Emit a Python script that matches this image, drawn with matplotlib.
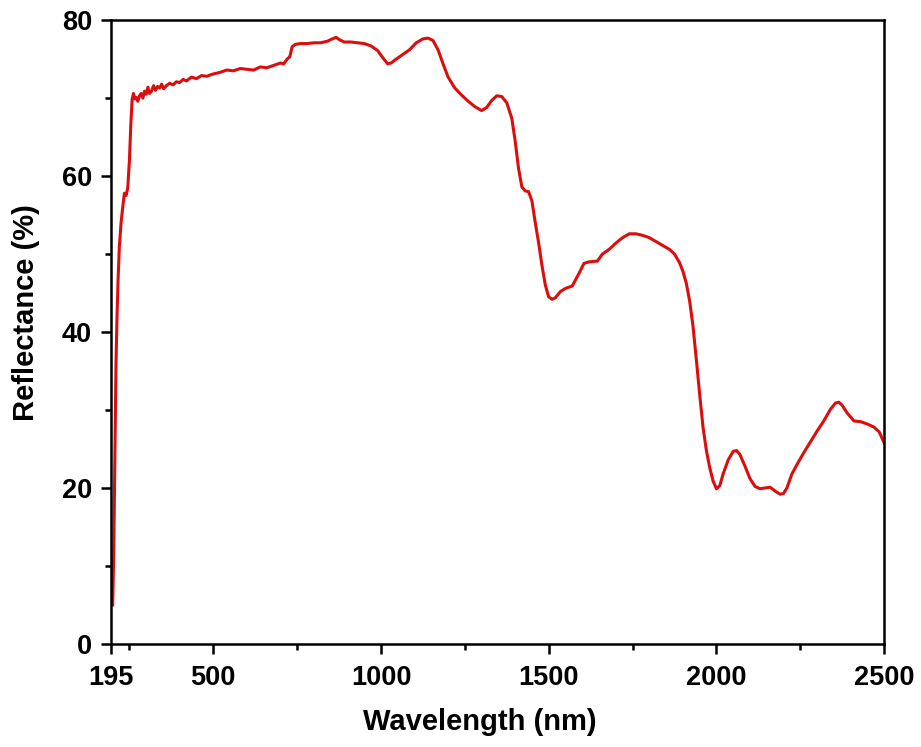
import matplotlib
matplotlib.use('Agg')
import matplotlib.pyplot as plt
from matplotlib.ticker import MultipleLocator, FixedLocator

# Reflectance spectrum
wavelength = [200, 203, 205, 207, 210, 213, 216, 220, 225, 230, 235, 240, 245, 250, 254, 258,
              262, 266, 270, 275, 280, 285, 290, 295, 300, 305, 310, 316, 322, 328, 334, 340,
              346, 352, 360, 370, 380, 390, 400, 410, 420, 435, 450, 465, 480, 500, 520, 540,
              560, 580, 600, 620, 640, 660, 680, 700, 710, 720, 728, 735, 745, 760, 780, 800,
              820, 840, 855, 866, 876, 890, 910, 930, 950, 970, 990, 1005, 1020, 1030, 1045,
              1065, 1085, 1105, 1125, 1140, 1155, 1170, 1185, 1200, 1220, 1240, 1260, 1280, 1300,
              1315, 1330, 1345, 1360, 1375, 1390, 1400, 1410, 1420, 1430, 1440, 1450, 1460, 1470,
              1480, 1490, 1500, 1510, 1520, 1535, 1550, 1570, 1590, 1605, 1620, 1645, 1660, 1680,
              1700, 1720, 1740, 1760, 1780, 1800, 1820, 1840, 1860, 1875, 1890, 1900, 1910, 1920,
              1930, 1940, 1950, 1960, 1970, 1980, 1990, 2000, 2010, 2020, 2035, 2050, 2060, 2070,
              2085, 2100, 2115, 2130, 2145, 2160, 2175, 2190, 2200, 2210, 2225, 2240, 2260, 2280,
              2300, 2320, 2340, 2355, 2365, 2375, 2390, 2410, 2430, 2450, 2470, 2485, 2500]
reflectance = [5.0, 11.0, 18.0, 25.0, 36.0, 42.0, 46.5, 51.0, 54.0, 56.0, 57.8, 57.5, 58.5, 62.0, 66.5, 69.8,
               70.6, 69.9, 70.1, 69.6, 70.3, 70.6, 70.0, 70.9, 70.5, 71.4, 70.6, 70.9, 71.6, 71.0, 71.5, 71.3,
               71.8, 71.2, 71.6, 71.9, 71.7, 72.1, 72.0, 72.4, 72.2, 72.7, 72.5, 72.9, 72.8, 73.1, 73.3, 73.6,
               73.5, 73.8, 73.7, 73.6, 74.0, 73.9, 74.2, 74.5, 74.4, 75.0, 75.3, 76.6, 76.9, 77.0, 77.0, 77.1,
               77.1, 77.3, 77.6, 77.8, 77.5, 77.2, 77.2, 77.1, 77.0, 76.7, 76.1, 75.2, 74.4, 74.5, 75.0,
               75.6, 76.2, 77.1, 77.6, 77.7, 77.4, 76.2, 74.4, 72.7, 71.3, 70.4, 69.6, 68.9, 68.4,
               68.8, 69.7, 70.3, 70.2, 69.4, 67.4, 64.5, 61.0, 58.6, 58.1, 58.0, 56.8, 54.0, 51.4,
               48.5, 46.0, 44.5, 44.2, 44.4, 45.2, 45.6, 45.9, 47.5, 48.8, 49.0, 49.1, 50.0, 50.6,
               51.4, 52.1, 52.6, 52.6, 52.4, 52.1, 51.6, 51.1, 50.6, 50.0, 48.9, 47.8, 46.3, 44.0,
               40.8, 36.5, 32.0, 27.8, 24.8, 22.6, 20.9, 19.9, 20.3, 21.8, 23.6, 24.7, 24.8, 24.3,
               22.8, 21.2, 20.2, 19.9, 20.0, 20.1, 19.6, 19.2, 19.3, 20.0, 21.8, 23.0, 24.5, 25.9,
               27.3, 28.6, 30.1, 30.9, 31.0, 30.6, 29.6, 28.6, 28.5, 28.2, 27.8, 27.2, 25.8]

x_major = [195, 500, 1000, 1500, 2000, 2500]
x_minor = [250, 750, 1250, 1750, 2250]

plt.rcParams['font.family'] = ['Liberation Sans', 'DejaVu Sans']
plt.rcParams['font.weight'] = 'bold'

fig = plt.figure(figsize=(9.21, 7.47), dpi=100)
ax = fig.add_axes([0.1205, 0.138, 0.8395, 0.835])

ax.plot(wavelength, reflectance, color='#dc0d0d', lw=2.2)

ax.set_xlim(195, 2500)
ax.set_ylim(0, 80)
ax.xaxis.set_major_locator(FixedLocator(x_major))
ax.xaxis.set_minor_locator(FixedLocator(x_minor))
ax.yaxis.set_major_locator(MultipleLocator(20))
ax.yaxis.set_minor_locator(MultipleLocator(10))

for s in ax.spines.values():
    s.set_linewidth(1.8)
ax.tick_params(which='major', direction='out', length=7.5, width=1.8, labelsize=19.5, pad=6)
ax.tick_params(axis='x', which='major', pad=8)
ax.tick_params(which='minor', direction='out', length=4.5, width=1.8)
for lab in ax.get_xticklabels() + ax.get_yticklabels():
    lab.set_fontweight('bold')

ax.set_xlabel('Wavelength (nm)', fontsize=21, fontweight='bold')
ax.set_ylabel('Reflectance (%)', fontsize=21, fontweight='bold')
ax.xaxis.set_label_coords(0.477, -0.103)
ax.yaxis.set_label_coords(-0.092, 0.532)

fig.savefig('out.png', dpi=100)
